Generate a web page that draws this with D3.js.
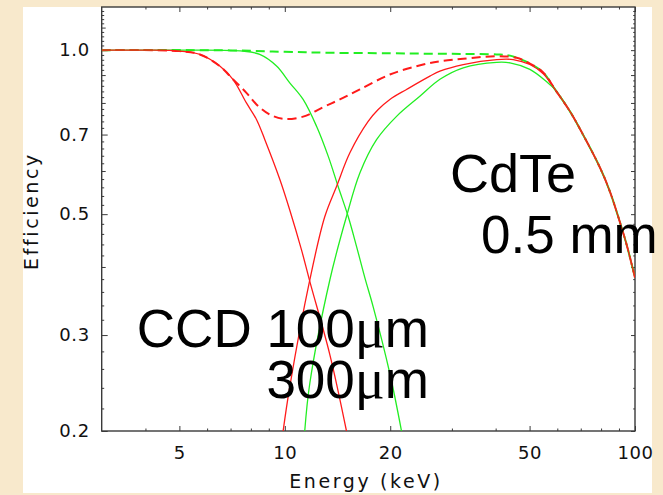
<!DOCTYPE html>
<html>
<head>
<meta charset="utf-8">
<script src="https://cdn.jsdelivr.net/npm/d3@7"></script>
<style>
  html, body { margin: 0; padding: 0; background: #f8e9cc; }
  svg { display: block; }
</style>
</head>
<body>
<svg id="chart" width="663" height="495"></svg>
<script>
// ---- Data ----
// CCD 100um efficiency (red solid, falling)
const ccd100E = [3, 4, 5.0, 5.72, 6.52, 7.11, 7.77, 8.30, 8.77, 9.68, 10.33, 11.16, 11.79, 13.45, 15.0];
const ccd100V = [1.0, 1.0, 0.996, 0.982, 0.935, 0.884, 0.80, 0.746, 0.685, 0.579, 0.509, 0.43, 0.376, 0.276, 0.2];
// CCD 300um efficiency (green solid, falling)
const ccd300E = [3, 5, 7.59, 8.48, 9.47, 10.33, 11.28, 12.32, 13.30, 14.20, 15.17, 16.03, 16.93, 17.88, 19.95, 21.54];
const ccd300V = [1.0, 1.0, 0.996, 0.982, 0.935, 0.871, 0.812, 0.725, 0.639, 0.562, 0.495, 0.436, 0.382, 0.338, 0.255, 0.2];
// CdTe 0.5mm behind CCD 100um (red solid, rising)
const cdte100E = [9.89, 10.33, 11.79, 13.01, 14.05, 15.34, 17.3, 18.48, 19.95, 22.27, 25.96, 27.73, 32.32, 40.27, 44.9, 50.1, 54.7, 59.1, 65.2, 71.2, 79.4, 84.8, 89.6, 94.7, 100];
const cdte100V = [0.2, 0.241, 0.379, 0.495, 0.562, 0.648, 0.74, 0.778, 0.812, 0.847, 0.896, 0.915, 0.941, 0.961, 0.961, 0.941, 0.905, 0.847, 0.772, 0.698, 0.609, 0.550, 0.494, 0.439, 0.382];
// CdTe 0.5mm behind CCD 300um (green solid, rising)
const cdte300E = [11.40, 11.79, 13.45, 15.0, 16.38, 18.28, 20.85, 24.3, 27.73, 32.32, 40.27, 43.95, 50.1, 55.94, 59.1, 65.2, 71.2, 79.4, 84.8, 89.6, 94.7, 100];
const cdte300V = [0.2, 0.245, 0.379, 0.495, 0.595, 0.685, 0.756, 0.823, 0.884, 0.928, 0.95, 0.948, 0.922, 0.875, 0.847, 0.772, 0.698, 0.609, 0.550, 0.494, 0.439, 0.382];
// Combined, 100um (red dashed)
const sum100E = [3, 5.0, 5.72, 6.52, 7.11, 7.77, 8.30, 9.06, 9.89, 11.28, 12.87, 14.36, 16.38, 19.95, 24.84, 27.73, 32.32, 40.27, 45.9, 50.1, 54.7, 59.1, 65.2, 71.2, 79.4, 84.8, 89.6, 94.7, 100];
const sum100V = [1.0, 0.996, 0.982, 0.935, 0.884, 0.835, 0.795, 0.762, 0.748, 0.755, 0.786, 0.812, 0.847, 0.902, 0.941, 0.954, 0.964, 0.975, 0.968, 0.945, 0.91, 0.847, 0.772, 0.698, 0.609, 0.550, 0.494, 0.439, 0.382];
// Combined, 300um (green dashed)
const sum300E = [3, 7.0, 10, 13.45, 20, 25.96, 32.32, 40.27, 43.95, 50.1, 54.7, 59.1, 65.2, 71.2, 79.4, 84.8, 89.6, 94.7, 100];
const sum300V = [1.0, 0.999, 0.993, 0.989, 0.987, 0.985, 0.984, 0.982, 0.977, 0.945, 0.91, 0.847, 0.772, 0.698, 0.609, 0.550, 0.494, 0.439, 0.382];

// Tick values
const xMajorTicks = [5, 10, 20, 50, 100];
const xMinorTicks = [4, 6, 7, 8, 9, 30, 40, 60, 70, 80, 90];
const yMajorTicks = [0.2, 0.3, 0.5, 0.7, 1.0];
const yMidTicks = [0.4, 0.6, 0.8, 0.9, 1.1];

// Annotation texts
const labelCdTe = ["CdTe", "0.5 mm"];
const labelCCD = [["CCD 100", "\u03bc", "m"], ["300", "\u03bc", "m"]];

// ---- Layout ----
const svg = d3.select("#chart");
const plot = {left: 101.7, right: 635, top: 7, bottom: 431};

const x = d3.scaleLog().domain([3, 100]).range([plot.left, plot.right]);
const y = d3.scaleLog().domain([0.2, 1.2]).range([plot.bottom, plot.top]);

// white panel
svg.append("rect").attr("x", 23).attr("y", 7).attr("width", 629).attr("height", 486).attr("fill", "#ffffff");

svg.append("defs").append("clipPath").attr("id", "clip")
  .append("rect").attr("x", plot.left).attr("y", plot.top)
  .attr("width", plot.right - plot.left).attr("height", plot.bottom - plot.top);

const axisColor = "#3a3a3a";
const tickFont = "'DejaVu Sans', sans-serif";

function styleAxis(g) {
  g.select(".domain").remove();
  g.selectAll("line").attr("stroke", axisColor).attr("stroke-width", 1);
  g.selectAll("text").attr("fill", "#111").style("font-family", tickFont)
    .style("font-size", "18px").style("letter-spacing", "0.6px");
}

// bottom axis
svg.append("g").attr("transform", `translate(0,${plot.bottom})`)
  .call(d3.axisBottom(x).tickValues(xMajorTicks).tickSize(-5).tickPadding(15).tickFormat(d3.format("d")))
  .call(styleAxis);
svg.append("g").attr("transform", `translate(0,${plot.bottom})`)
  .call(d3.axisBottom(x).tickValues(xMinorTicks).tickSize(-2.5).tickFormat(""))
  .call(styleAxis);
// top axis
svg.append("g").attr("transform", `translate(0,${plot.top})`)
  .call(d3.axisTop(x).tickValues(xMajorTicks).tickSize(-5).tickFormat(""))
  .call(styleAxis);
svg.append("g").attr("transform", `translate(0,${plot.top})`)
  .call(d3.axisTop(x).tickValues(xMinorTicks).tickSize(-2.5).tickFormat(""))
  .call(styleAxis);

// y minor ticks every 0.02
const yMinorTicks = d3.range(22, 120, 2).filter(v => v % 10 !== 0).map(v => v / 100);

// left axis
svg.append("g").attr("transform", `translate(${plot.left},0)`)
  .call(d3.axisLeft(y).tickValues(yMajorTicks).tickSize(-6).tickPadding(12).tickFormat(d3.format(".1f")))
  .call(styleAxis);
svg.append("g").attr("transform", `translate(${plot.left},0)`)
  .call(d3.axisLeft(y).tickValues(yMidTicks).tickSize(-4).tickFormat(""))
  .call(styleAxis);
svg.append("g").attr("transform", `translate(${plot.left},0)`)
  .call(d3.axisLeft(y).tickValues(yMinorTicks).tickSize(-2.5).tickFormat(""))
  .call(styleAxis);
// right axis
svg.append("g").attr("transform", `translate(${plot.right},0)`)
  .call(d3.axisRight(y).tickValues(yMajorTicks.concat(yMidTicks)).tickSize(-4).tickFormat(""))
  .call(styleAxis);
svg.append("g").attr("transform", `translate(${plot.right},0)`)
  .call(d3.axisRight(y).tickValues(yMinorTicks).tickSize(-1.8).tickFormat(""))
  .call(styleAxis);

// frame
svg.append("rect").attr("x", plot.left).attr("y", plot.top)
  .attr("width", plot.right - plot.left).attr("height", plot.bottom - plot.top)
  .attr("fill", "none").attr("stroke", axisColor).attr("stroke-width", 1.4);

// axis titles
svg.append("text").attr("x", 366).attr("y", 488)
  .attr("text-anchor", "middle")
  .style("font-family", tickFont).style("font-size", "19px").style("letter-spacing", "2.6px")
  .attr("fill", "#111").text("Energy (keV)");
svg.append("text").attr("transform", "translate(37.5,211) rotate(-90)")
  .attr("text-anchor", "middle")
  .style("font-family", tickFont).style("font-size", "19px").style("letter-spacing", "2.6px")
  .attr("fill", "#111").text("Efficiency");

// ---- Curves ----
const line = d3.line().x(d => x(d[0])).y(d => y(d[1])).curve(d3.curveCatmullRom.alpha(0.5));
const zip = (E, V) => E.map((e, i) => [e, V[i]]);

const series = [
  {E: sum300E, V: sum300V, color: "#22ee22", dash: "9,5", w: 2},
  {E: sum100E, V: sum100V, color: "#ff1a1a", dash: "9,5", w: 2},
  {E: ccd300E, V: ccd300V, color: "#22ee22", dash: null, w: 1.3},
  {E: cdte300E, V: cdte300V, color: "#22ee22", dash: null, w: 1.3},
  {E: ccd100E, V: ccd100V, color: "#ff1a1a", dash: null, w: 1.3},
  {E: cdte100E, V: cdte100V, color: "#ff1a1a", dash: null, w: 1.3}
];

const lines = svg.append("g").attr("clip-path", "url(#clip)");
series.forEach(s => {
  lines.append("path").datum(zip(s.E, s.V))
    .attr("d", line).attr("fill", "none")
    .attr("stroke", s.color).attr("stroke-width", s.w)
    .attr("stroke-dasharray", s.dash);
});

// ---- Annotations ----
const bigFont = "'Liberation Sans', Arial, sans-serif";
const muFont = "'Liberation Serif', 'Times New Roman', serif";
svg.append("text").attr("x", 450).attr("y", 192).style("font-family", bigFont)
  .style("font-size", "54px").attr("fill", "#000").text(labelCdTe[0]);
svg.append("text").attr("x", 481).attr("y", 253).style("font-family", bigFont)
  .style("font-size", "53px").attr("fill", "#000").text(labelCdTe[1]);

function ccdLabel(parts, yPos) {
  const t = svg.append("text").attr("x", 429).attr("y", yPos).attr("text-anchor", "end")
    .style("font-family", bigFont).style("font-size", "53px").attr("fill", "#000");
  t.append("tspan").text(parts[0]);
  t.append("tspan").style("font-family", muFont).style("font-size", "56px").text(parts[1]);
  t.append("tspan").text(parts[2]);
}
ccdLabel(labelCCD[0], 347);
ccdLabel(labelCCD[1], 398);
</script>
</body>
</html>
